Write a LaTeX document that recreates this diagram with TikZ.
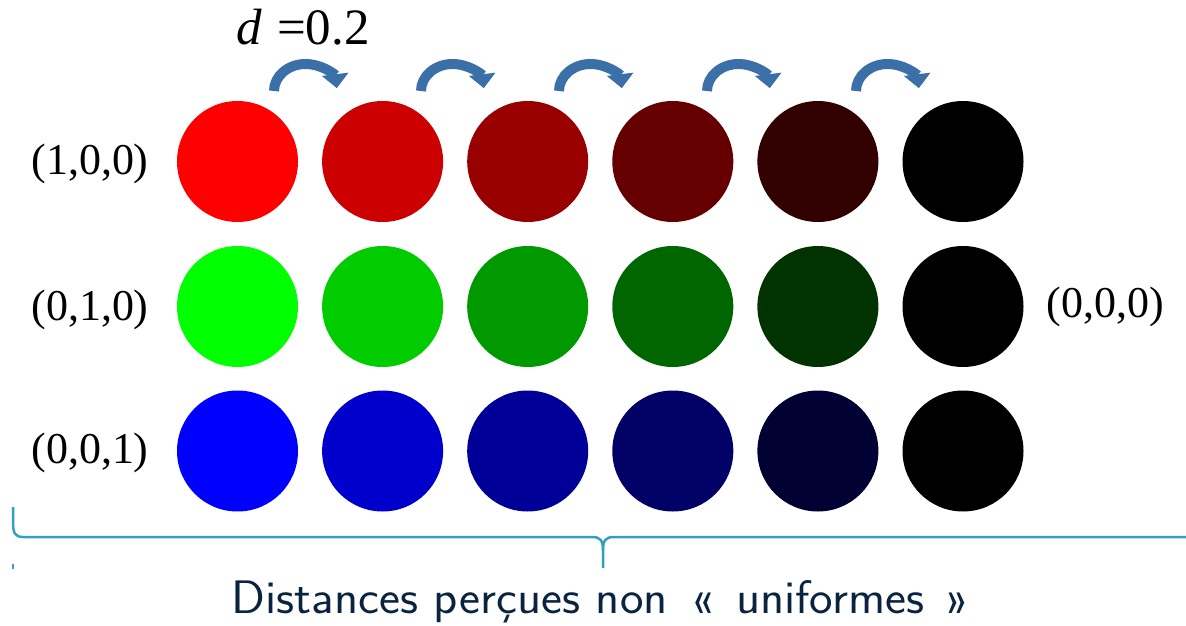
\documentclass[tikz,border=0pt]{standalone}
\usepackage{fontspec}
\usepackage{graphicx}
\newfontfamily\timesf{Liberation Serif}
\usetikzlibrary{arrows.meta}
\definecolor{arrowblue}{RGB}{59,111,168}
\definecolor{arrowteal}{RGB}{48,140,178}
\definecolor{bracecol}{RGB}{52,160,192}
\definecolor{navy}{RGB}{10,36,64}
\begin{document}
\begin{tikzpicture}[x=1pt,y=-1pt,
  dot/.style={circle,inner sep=0pt,minimum size=121pt},
  lab/.style={font=\timesf\fontsize{44}{50}\selectfont,inner sep=0pt},
  carrow/.style={draw=arrowblue,line width=10pt,-{Triangle[width=26pt,length=14pt]}},
  bracestyle/.style={draw=bracecol,line width=2.5pt,line join=round}]
\useasboundingbox (0,0) rectangle (1186,626);
% circles
\foreach \i/\v in {0/255,1/204,2/153,3/102,4/51,5/0}{
  \pgfmathsetmacro\xx{237.5+145.1*\i}
  \definecolor{cr}{RGB}{\v,0,0}
  \definecolor{cg}{RGB}{0,\v,0}
  \definecolor{cb}{RGB}{0,0,\v}
  \node[dot,fill=cr] (r\i) at (\xx,161.5) {};
  \node[dot,fill=cg] (g\i) at (\xx,306.5) {};
  \node[dot,fill=cb] (b\i) at (\xx,451) {};
}
% labels
\node[lab] (l100) at (90,164) {(1,0,0)};
\node[lab] (l010) at (90,310) {(0,1,0)};
\node[lab] (l001) at (90,453) {(0,0,1)};
\node[lab] (l000) at (1105,307) {(0,0,0)};
\node[lab,font=\timesf\fontsize{51}{56}\selectfont,anchor=base west] (dlab) at (236,45) {\textit{d}\hspace{0.3em}=0.2};
% curved arrows
\foreach \L [count=\k] in {269,416,554,702,851}{
  \coordinate (as\k) at (\L+5,91);
  \draw[carrow] (as\k) arc[start angle=180,end angle=354,x radius=31.5,y radius=27];
}
% brace
\coordinate (bl) at (13,507);
\coordinate (bm) at (603,568);
\coordinate (br) at (1192,537);
\draw[bracestyle] (bl) -- (13,522) .. controls (13,533) and (15,537) .. (23,537)
  -- (592,537) .. controls (600,537) and (603,540) .. (603,550) -- (bm);
\draw[bracestyle] (603,550) .. controls (603,540) and (606,537) .. (614,537) -- (br);
\draw[draw=bracecol,line width=1.5pt] (13,564) -- (13,569);
% caption
\node[font=\sffamily\fontsize{47}{54}\selectfont,text=navy,anchor=base,inner sep=0pt] (cap) at (601,613) {\resizebox{738pt}{\height}{Distances perçues non\hspace{0.45em}«\hspace{0.45em}uniformes\hspace{0.45em}»}};
\end{tikzpicture}
\end{document}
